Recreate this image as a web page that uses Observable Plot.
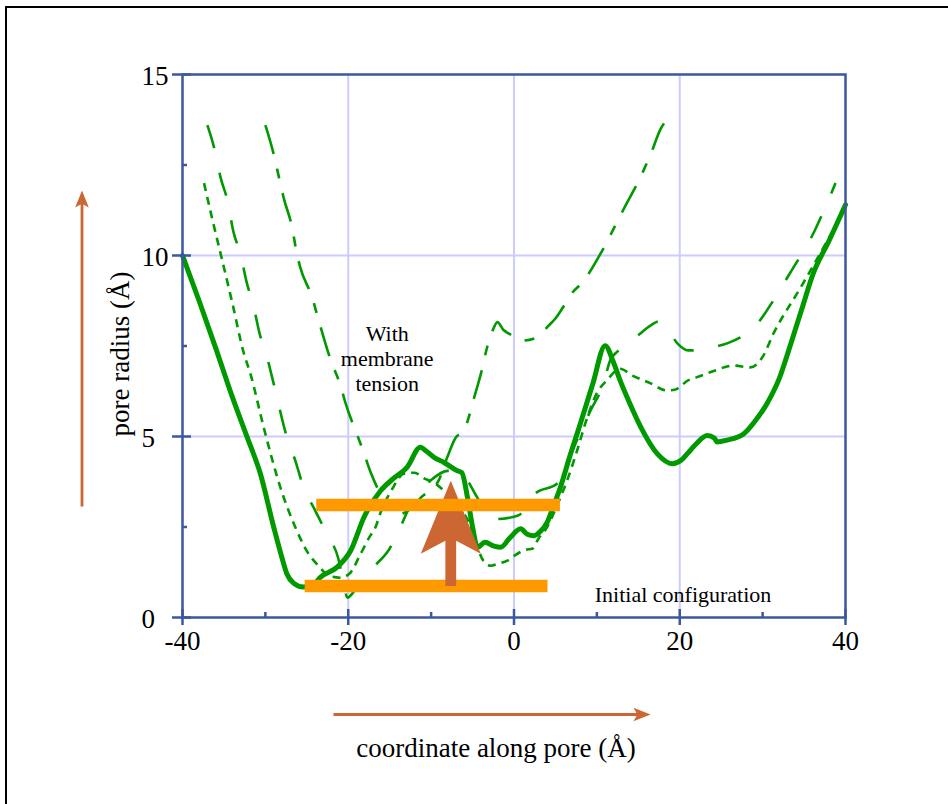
<!DOCTYPE html>
<html><head><meta charset="utf-8">
<script src="https://cdn.jsdelivr.net/npm/d3@7"></script>
<script src="https://cdn.jsdelivr.net/npm/@observablehq/plot@0.6"></script>
<style>
html,body{margin:0;padding:0;background:#fff;overflow:hidden;width:948px;height:804px;}
#wrap{position:relative;width:948px;height:804px;overflow:hidden;}
#border{position:absolute;left:5px;top:6px;width:1000px;height:900px;border:2.5px solid #000;pointer-events:none;}
#chart{position:absolute;left:0;top:0;}
</style></head><body>
<div id="wrap"><div id="border"></div><div id="chart"></div></div>
<script>
// ---- axes ----
const xMajor = [-40, -20, 0, 20, 40];
const xMinor = [-30, -10, 10, 30];
const yMajor = [0, 5, 10, 15];
const yMinor = [2.5, 7.5, 12.5];
const xGrid = [-20, 0, 20];
const yGrid = [5, 10];

// ---- series: initial configuration (solid) ----
const initialX = [-40,-38,-36,-34,-32.2,-30.6,-29,-28,-27.4,-26.6,-25.4,-24.2,-23.3,-21.3,-19.7,-18.1,-16.1,-14.5,-12.9,-11.3,-10.6,-9.5,-8.5,-6.9,-6.3,-5.6,-5.0,-4.4,-3.5,-2.4,-1.6,-0.5,0.8,1.6,2.4,3.2,4.0,4.8,5.6,6.8,8.0,9.5,11.0,12.0,12.8,14.0,15.3,17.3,19.1,20.2,20.9,22.0,23.3,24.2,24.5,25.7,27.7,29.0,30.5,32.0,33.4,34.7,36.1,38.0,40];
const initialY = [10,8.75,7.45,6.1,4.98,3.97,2.5,1.65,1.2,0.95,0.84,0.92,1.12,1.4,1.85,2.77,3.5,3.85,4.15,4.7,4.6,4.4,4.29,4.06,4.0,3.3,2.5,1.94,2.08,1.97,1.94,2.2,2.45,2.3,2.26,2.38,2.63,3.1,3.6,4.5,5.35,6.45,7.51,7.05,6.55,5.9,5.26,4.52,4.25,4.35,4.52,4.8,5.03,4.95,4.85,4.9,5.07,5.4,5.9,6.6,7.56,8.5,9.5,10.4,11.4];

// ---- series: with tension, short dashes ----
const dottedX = [-37.4,-36.4,-35.4,-34,-32.6,-31.8,-30.2,-28.2,-26.4,-24.9,-23.6,-22.3,-21,-19.9,-18.5,-17.5,-16.7,-16.1,-14.7,-13.3,-12,-10.9,-9.5,-8,-6.5,-5.6,-4.8,-3.7,-2.8,-1.9,-0.8,0,1.4,2.2,3,4,5.2,6.4,7.6,8.8,10,11.2,12.8,14.3,16.2,18.5,19.5,21,22.1,24,26.5,28.5,30,31.3,34.6,37.8,40];
const dottedY = [12,11,10.05,8.7,7.3,6.73,5.25,3.6,2.5,1.8,1.43,1.15,1.1,1.2,1.76,2.2,2.5,2.9,3.55,3.97,4,3.85,3.7,3.4,3.0,2.7,2.2,1.57,1.43,1.49,1.57,1.7,1.87,1.9,2.2,2.5,3.1,3.78,4.6,5.5,6.2,6.55,6.87,6.68,6.5,6.27,6.3,6.55,6.64,6.8,6.96,6.91,7.2,7.84,9.12,10.4,11.3];

// ---- series: with tension, long dashes ----
const longX = [-37,-36.1,-35.4,-34.5,-33.9,-33,-32.3,-31.4,-30.7,-29.8,-29,-27.4,-26.4,-25.4,-24,-22.5,-21.2,-20.6,-20.1,-19.2,-17.9,-16.5,-15.3,-13.9,-12.5,-11.3,-10,-8,-6.5,-4.4,-3.2,-2.2,0.5,2.6,5.2,7,9.2,10.8,11.6,12.5,13.8,15,16.5,17.5,18.6,19.8,21,22.5,24.1,25.8,27.3,29.3,31.3,33,34.6,36.1,37.5,38.8];
const longY = [13.6,12.9,12.15,11.45,10.7,10.03,9.3,8.57,7.85,7.19,6.46,4.98,4.34,3.6,2.96,2.27,1.63,1.0,0.55,0.75,1.1,1.5,1.8,2.4,3.1,3.5,3.8,4.05,4.0,3.3,2.85,2.72,2.82,3.43,3.7,4.6,5.7,6.46,7.1,7.35,7.56,7.8,8.07,8.18,7.93,7.55,7.38,7.38,7.47,7.58,7.74,8.1,8.76,9.4,10.0,10.6,11.3,12.0];

// ---- series: with tension, long-short dashes ----
const dashDotX = [-30,-29,-28.4,-27.8,-26.8,-26.2,-25.8,-24.3,-23.9,-22.1,-21,-20.3,-18.9,-18.3,-17.3,-15.9,-14.9,-14,-12.5,-11.3,-9.1,-8.1,-7,-6.1,-5.5,-4.9,-4,-3.2,-2.5,-2,-1.3,-0.6,1,2.8,4.2,5,6,6.8,8.4,10.8,12.6,13.5,14.9,16.5,17.7,18.1];
const dashDotY = [13.6,12.8,12.2,11.6,10.8,10.05,9.68,8.8,8.48,7.1,6.45,5.9,5.03,4.67,4.01,3.32,2.95,2.85,3.0,3.3,3.78,4.4,4.98,5.13,5.5,6.0,6.73,7.5,7.97,8.16,7.95,7.84,7.65,7.74,8.07,8.26,8.6,8.9,9.3,10.2,11.0,11.4,12.0,12.8,13.5,13.65];

// ---- annotations (data units) ----
const initialBar = [{y: 0.87, x1: -25.2, x2: 4.1}];
const tensionBar = [{y: 3.11, x1: -23.8, x2: 5.6}];
const bigArrow = [{x: -7.63, from: 0.87, to: 3.78}];
const notes = [
  {x: -15.3, y: 7.17, text: "With\nmembrane\ntension"},
  {x: 20.4, y: 0.64, text: "Initial configuration"}
];
const xLabel = "coordinate along pore (Å)";
const yLabel = "pore radius (Å)";

// ---- layout / style ----
const W = 948, H = 804, mL = 182, mR = 103, mT = 74, mB = 187;
const frameW = W - mL - mR, frameH = H - mT - mB;
const pxPerY = frameH / 15;
const bigArrowLength = (bigArrow[0].to - bigArrow[0].from) * pxPerY;
const green = "#009900", axisBlue = "#3b579d", gridC = "#ccccff";
const orange = "#ff9900", brown = "#cc6633";

const rows = (xs, ys) => xs.map((x, i) => ({x, y: ys[i]}));

const thinArrowShape = {
  draw(ctx, l) {
    const w = 1.4, hl = 17, hw = 6.8, n = 3;
    ctx.moveTo(-w, 0); ctx.lineTo(-w, -(l - hl + n)); ctx.lineTo(-hw, -(l - hl));
    ctx.lineTo(0, -l); ctx.lineTo(hw, -(l - hl)); ctx.lineTo(w, -(l - hl + n));
    ctx.lineTo(w, 0); ctx.closePath();
  }
};
const bigArrowShape = {
  draw(ctx, l) {
    const w = 5.4, hl = 73, hw = 30, n = 13;
    ctx.moveTo(-w, 0); ctx.lineTo(-w, -(l - hl + n)); ctx.lineTo(-hw, -(l - hl));
    ctx.lineTo(0, -l); ctx.lineTo(hw, -(l - hl)); ctx.lineTo(w, -(l - hl + n));
    ctx.lineTo(w, 0); ctx.closePath();
  }
};

const chart = Plot.plot({
  width: W, height: H,
  marginLeft: mL, marginRight: mR, marginTop: mT, marginBottom: mB,
  x: {domain: [-40, 40], axis: null},
  y: {domain: [0, 15], axis: null},
  style: {fontFamily: "'Liberation Serif', 'Times New Roman', serif", fontSize: "26px", background: "transparent", color: "#000", overflow: "visible"},
  marks: [
    Plot.ruleX(xGrid, {x: d => d, stroke: gridC, strokeWidth: 2}),
    Plot.ruleY(yGrid, {y: d => d, stroke: gridC, strokeWidth: 2}),
    Plot.line(rows(longX, longY), {x: "x", y: "y", stroke: green, strokeWidth: 2.6, strokeDasharray: "24,25", strokeLinecap: "butt", curve: "monotone-x"}),
    Plot.line(rows(dashDotX, dashDotY), {x: "x", y: "y", stroke: green, strokeWidth: 2.6, strokeDasharray: "30,15,10,15", strokeLinecap: "butt", curve: "monotone-x"}),
    Plot.line(rows(dottedX, dottedY), {x: "x", y: "y", stroke: green, strokeWidth: 2.6, strokeDasharray: "8,6", strokeLinecap: "butt", curve: "monotone-x"}),
    Plot.line(rows(initialX, initialY), {x: "x", y: "y", stroke: green, strokeWidth: 5, curve: "monotone-x"}),
    Plot.ruleY(initialBar, {y: "y", x1: "x1", x2: "x2", stroke: orange, strokeWidth: 12.5}),
    Plot.vector(bigArrow, {x: "x", y: "from", length: bigArrowLength, rotate: 0, anchor: "start", shape: bigArrowShape, fill: brown, stroke: "none"}),
    Plot.ruleY(tensionBar, {y: "y", x1: "x1", x2: "x2", stroke: orange, strokeWidth: 12.5}),
    Plot.frame({stroke: axisBlue, strokeWidth: 2.5}),
    Plot.tickX(xMajor, {x: d => d, stroke: axisBlue, strokeWidth: 2.5, insetTop: frameH - 8, insetBottom: -8}),
    Plot.tickX(xMinor, {x: d => d, stroke: axisBlue, strokeWidth: 2.5, insetTop: frameH - 5}),
    Plot.tickY(yMajor, {y: d => d, stroke: axisBlue, strokeWidth: 2.5, insetRight: frameW - 9, insetLeft: -10}),
    Plot.tickY(yMinor, {y: d => d, stroke: axisBlue, strokeWidth: 2.5, insetRight: frameW - 5}),
    Plot.text(xMajor, {x: d => d, frameAnchor: "bottom", text: d => String(d), textAnchor: "middle", lineAnchor: "top", dy: 13, fontSize: 27}),
    Plot.text(yMajor, {y: d => d, frameAnchor: "left", text: d => String(d), textAnchor: "start", lineAnchor: "middle", dx: -41, dy: 2, fontSize: 27}),
    Plot.text([yLabel], {frameAnchor: "left", text: d => d, rotate: -90, textAnchor: "middle", lineAnchor: "middle", dx: -62, dy: 8, fontSize: 27}),
    Plot.text([xLabel], {frameAnchor: "bottom", text: d => d, textAnchor: "middle", lineAnchor: "middle", dx: -18, dy: 131, fontSize: 27}),
    Plot.text(notes, {x: "x", y: "y", text: "text", fontSize: 22, lineHeight: 1.15}),
    Plot.vector([0], {frameAnchor: "bottom-left", dx: 151, dy: 97, length: 317, rotate: 90, anchor: "start", shape: thinArrowShape, fill: brown, stroke: "none"}),
    Plot.vector([0], {frameAnchor: "bottom-left", dx: -100.5, dy: -111, length: 316, rotate: 0, anchor: "start", shape: thinArrowShape, fill: brown, stroke: "none"})
  ]
});
document.getElementById("chart").appendChild(chart);
</script></body></html>
